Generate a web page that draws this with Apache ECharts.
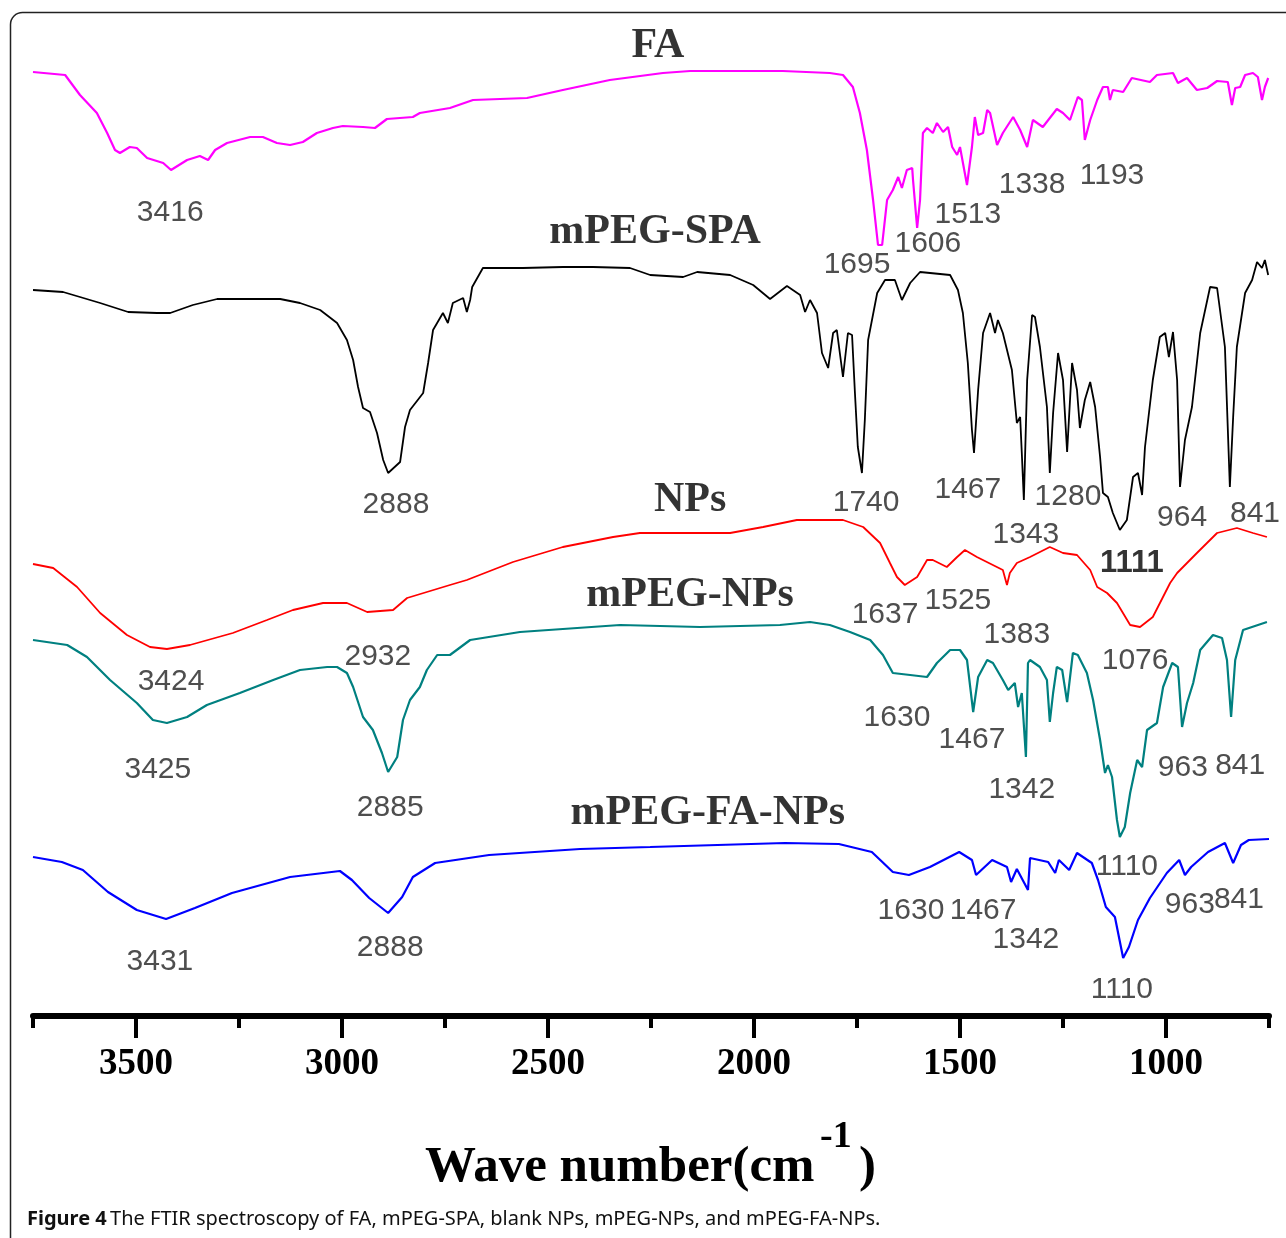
<!DOCTYPE html>
<html>
<head>
<meta charset="utf-8">
<script src="https://cdn.jsdelivr.net/npm/echarts@6/dist/echarts.min.js"></script>
<style>
html,body{margin:0;padding:0;background:#fff;}
#chart{width:1286px;height:1238px;}
</style>
</head>
<body>
<div id="chart"></div>
<script>
// ---- Data: [wavenumber (cm-1), offset transmittance (a.u.)] ----
const FA = [[3750,944],[3672,941],[3636,921],[3595,903],[3570,883],[3551,866],[3539,863],[3515,869],[3498,868],[3473,858],[3434,853],[3415,846],[3376,856],[3345,860],[3325,856],[3308,866],[3279,873],[3223,879],[3192,879],[3158,873],[3126,871],[3095,874],[3061,883],[3022,888],[2998,890],[2949,889],[2920,888],[2891,897],[2828,899],[2811,903],[2738,908],[2682,916],[2551,918],[2464,926],[2350,936],[2221,943],[2155,945],[1930,945],[1816,943],[1784,941],[1760,929],[1743,903],[1726,866],[1711,816],[1699,771],[1689,771],[1677,816],[1663,826],[1650,839],[1641,828],[1629,846],[1616,848],[1614,836],[1604,788],[1597,816],[1590,883],[1580,888],[1566,883],[1556,893],[1541,884],[1529,889],[1519,869],[1507,861],[1500,869],[1483,831],[1471,869],[1464,899],[1456,881],[1444,883],[1434,906],[1427,903],[1410,871],[1396,883],[1371,899],[1354,886],[1337,869],[1323,896],[1299,889],[1265,907],[1250,903],[1233,896],[1214,919],[1204,916],[1197,876],[1184,896],[1167,916],[1153,929],[1141,929],[1136,916],[1129,926],[1104,924],[1083,938],[1039,934],[1022,941],[983,943],[971,933],[949,938],[925,926],[900,928],[876,935],[850,934],[840,911],[832,928],[820,929],[808,941],[789,943],[777,939],[767,916],[760,929],[752,938]];

const mPEG_SPA = [[3750,726],[3677,724],[3636,719],[3587,713],[3519,704],[3449,703],[3417,703],[3362,711],[3303,717],[3150,717],[3102,713],[3053,706],[3012,693],[2988,676],[2973,656],[2961,629],[2949,608],[2932,604],[2915,583],[2900,556],[2888,543],[2859,554],[2847,589],[2835,606],[2803,623],[2791,653],[2779,686],[2755,703],[2743,693],[2731,713],[2706,718],[2697,704],[2689,716],[2684,729],[2658,748],[2561,748],[2464,749],[2391,749],[2301,748],[2252,741],[2172,739],[2138,744],[2058,741],[2002,731],[1961,717],[1920,730],[1888,721],[1876,704],[1864,716],[1847,703],[1835,663],[1820,648],[1808,683],[1799,686],[1784,639],[1772,683],[1762,681],[1755,623],[1748,569],[1738,543],[1731,596],[1723,676],[1701,723],[1682,736],[1658,736],[1641,716],[1621,733],[1597,744],[1524,741],[1505,726],[1493,703],[1481,653],[1471,586],[1466,563],[1456,626],[1444,683],[1427,703],[1415,683],[1408,696],[1396,683],[1374,646],[1362,593],[1354,599],[1350,563],[1345,516],[1337,636],[1325,701],[1318,699],[1306,669],[1289,609],[1282,543],[1274,603],[1262,663],[1250,636],[1240,564],[1228,653],[1216,626],[1209,588],[1197,616],[1184,634],[1172,609],[1160,559],[1153,523],[1141,519],[1129,503],[1112,486],[1095,496],[1080,539],[1068,543],[1058,521],[1051,569],[1032,636],[1015,679],[1002,683],[993,659],[983,684],[973,636],[966,529],[954,576],[937,609],[917,683],[893,729],[876,728],[857,669],[845,529],[837,599],[828,669],[808,723],[791,736],[779,754],[767,748],[760,756],[752,741]];

const NPs = [[3750,452],[3701,448],[3643,429],[3587,403],[3522,381],[3466,369],[3425,367],[3369,371],[3265,383],[3182,396],[3119,406],[3046,413],[2988,413],[2939,404],[2876,406],[2842,418],[2738,431],[2697,436],[2585,454],[2464,469],[2342,479],[2277,483],[2058,483],[1978,489],[1896,496],[1784,496],[1735,489],[1694,473],[1670,453],[1653,439],[1634,431],[1604,439],[1580,456],[1566,456],[1532,449],[1507,459],[1488,466],[1459,459],[1396,446],[1386,431],[1379,443],[1362,453],[1330,459],[1282,469],[1250,463],[1216,461],[1184,446],[1167,429],[1143,423],[1119,413],[1087,391],[1063,389],[1032,399],[990,433],[973,443],[925,463],[876,483],[828,488],[789,483],[755,479]];

const mPEG_NPs = [[3750,376],[3667,371],[3619,359],[3563,336],[3498,313],[3459,296],[3425,293],[3376,299],[3328,311],[3248,323],[3167,336],[3102,346],[3036,349],[3012,349],[2988,343],[2973,329],[2949,299],[2925,286],[2903,263],[2888,244],[2866,259],[2852,296],[2835,316],[2811,329],[2794,346],[2769,361],[2738,361],[2689,376],[2568,384],[2325,391],[2131,389],[1937,391],[1864,394],[1816,391],[1767,384],[1718,376],[1687,361],[1663,343],[1621,341],[1580,339],[1556,353],[1524,366],[1500,366],[1483,356],[1468,304],[1456,339],[1434,356],[1420,353],[1396,336],[1383,326],[1367,333],[1359,309],[1350,323],[1340,259],[1335,353],[1330,356],[1306,349],[1289,336],[1282,294],[1274,323],[1265,349],[1252,346],[1240,314],[1226,363],[1214,361],[1192,343],[1177,316],[1160,276],[1148,243],[1141,251],[1131,239],[1119,196],[1112,179],[1100,189],[1087,223],[1070,256],[1058,249],[1046,286],[1022,293],[1007,329],[985,353],[971,349],[961,289],[949,313],[934,333],[917,366],[886,381],[864,378],[852,356],[842,299],[832,356],[813,386],[755,394]];

const mPEG_FA_NPs = [[3750,159],[3680,154],[3629,146],[3568,124],[3498,106],[3427,97],[3357,108],[3267,123],[3126,139],[3005,145],[2976,136],[2934,118],[2888,103],[2854,119],[2828,139],[2774,153],[2643,161],[2422,167],[2252,169],[1925,173],[1794,172],[1714,164],[1663,144],[1624,141],[1573,149],[1502,164],[1471,156],[1461,141],[1422,156],[1386,149],[1376,134],[1362,147],[1335,126],[1330,158],[1286,154],[1269,143],[1260,156],[1235,146],[1216,163],[1180,153],[1165,136],[1146,109],[1124,99],[1104,58],[1090,69],[1068,96],[1039,118],[998,143],[968,156],[954,141],[939,149],[898,164],[857,173],[837,153],[818,171],[799,176],[750,177]];

// peak annotations: [wavenumber, offset, text]
const peakLabels = [
  [3417,803,'3416'],[1750,751,'1695'],[1578,772,'1606'],[1481,801,'1513'],[1325,831,'1338'],[1131,840,'1193'],
  [2869,511,'2888'],[1728,513,'1740'],[1481,526,'1467'],[1340,481,'1343'],[1238,519,'1280'],[961,498,'964'],[784,502,'841'],
  [1682,401,'1637'],[1505,415,'1525'],[1362,381,'1383'],[1075,355,'1076'],[3415,334,'3424'],[2913,359,'2932'],
  [3447,246,'3425'],[2883,208,'2885'],[1653,298,'1630'],[1471,276,'1467'],[1350,226,'1342'],[959,248,'963'],[820,250,'841'],[1095,149,'1110'],
  [3442,54,'3431'],[2883,68,'2888'],[1619,105,'1630'],[1444,105,'1467'],[1340,76,'1342'],[942,111,'963'],[823,116,'841'],[1107,26,'1110']
];
const boldPeakLabels = [[1083,453,'1111']];
const seriesNames = [[2233,970,'FA'],[2240,784,'mPEG-SPA'],[2155,516,'NPs'],[2155,421,'mPEG-NPs'],[2112,203,'mPEG-FA-NPs']];

const majorTicks = [1000,1500,2000,2500,3000,3500];
const minorTicks = [750,1250,1750,2250,2750,3250,3750];

function lineSeries(name, data, color, width) {
  return {
    type: 'line', name: name, data: data, color: color,
    showSymbol: false, symbol: 'none', smooth: false,
    lineStyle: {color: color, width: width}, xAxisIndex: 0, yAxisIndex: 0,
    z: 3
  };
}
function textSeries(items, labelStyle) {
  return {
    type: 'scatter', symbolSize: 0, silent: true, xAxisIndex: 0, yAxisIndex: 0,
    data: items.map(d => ({value: [d[0], d[1]], name: d[2]})),
    label: Object.assign({show: true, position: 'inside', formatter: '{b}'}, labelStyle),
    z: 5
  };
}

const chart = echarts.init(document.getElementById('chart'), null, {renderer: 'canvas'});
const option = {
  animation: false,
  backgroundColor: '#ffffff',
  grid: {left: 33, right: 17, top: 16, bottom: 222, containLabel: false},
  xAxis: [{
    type: 'value', position: 'bottom', min: 750, max: 3750, inverse: true,
    axisLine: {show: true, lineStyle: {color: '#000', width: 6}},
    axisTick: {show: true, customValues: majorTicks, length: 22, inside: false, lineStyle: {color: '#000', width: 4}},
    axisLabel: {show: true, customValues: majorTicks, margin: 30, color: '#000',
      formatter: v => String(v),
      fontFamily: '"Liberation Serif", "Times New Roman", serif', fontWeight: 'bold', fontSize: 37},
    splitLine: {show: false}
  }, {
    type: 'value', position: 'bottom', min: 750, max: 3750, inverse: true,
    axisLine: {show: false},
    axisTick: {show: true, customValues: minorTicks, length: 12, inside: false, lineStyle: {color: '#000', width: 4}},
    axisLabel: {show: false},
    splitLine: {show: false}
  }],
  yAxis: {type: 'value', min: 0, max: 1000, show: false},
  series: [
    lineSeries('FA', FA, '#ff00ff', 2.2),
    lineSeries('mPEG-SPA', mPEG_SPA, '#000000', 1.8),
    lineSeries('NPs', NPs, '#ff0000', 1.8),
    lineSeries('mPEG-NPs', mPEG_NPs, '#008080', 2.2),
    lineSeries('mPEG-FA-NPs', mPEG_FA_NPs, '#0000ff', 2.2),
    textSeries(peakLabels, {color: '#222', fontFamily: '"Liberation Sans", Arial, sans-serif', fontSize: 30}),
    textSeries(boldPeakLabels, {color: '#000', fontFamily: '"Liberation Sans", Arial, sans-serif', fontWeight: 'bold', fontSize: 31}),
    textSeries(seriesNames, {color: '#000', fontFamily: '"Liberation Serif", "Times New Roman", serif', fontWeight: 'bold', fontSize: 42})
  ],
  graphic: [
    {type: 'rect', shape: {x: 10.5, y: 12.5, width: 1300, height: 1250, r: 12},
      style: {fill: 'none', stroke: '#222', lineWidth: 1.5}, z: 0, silent: true},
    {type: 'text', left: 425, top: 1142, style: {text: 'Wave number(cm', fill: '#000',
      font: 'bold 51px "Liberation Serif", "Times New Roman", serif'}},
    {type: 'text', left: 820, top: 1118, style: {text: '-1', fill: '#000',
      font: 'bold 38px "Liberation Serif", "Times New Roman", serif'}},
    {type: 'text', left: 859, top: 1142, style: {text: ')', fill: '#000',
      font: 'bold 51px "Liberation Serif", "Times New Roman", serif'}},
    {type: 'text', left: 27, top: 1209, style: {
      text: '{b|Figure 4} {n|The FTIR spectroscopy of FA, mPEG-SPA, blank NPs, mPEG-NPs, and mPEG-FA-NPs.}',
      rich: {
        b: {fontFamily: '"Noto Sans", "Open Sans", sans-serif', fontWeight: 'bold', fontSize: 20, fill: '#111'},
        n: {fontFamily: '"Noto Sans", "Open Sans", sans-serif', fontSize: 20, fill: '#111'}
      }}}
  ]
};
chart.setOption(option);
</script>
</body>
</html>
